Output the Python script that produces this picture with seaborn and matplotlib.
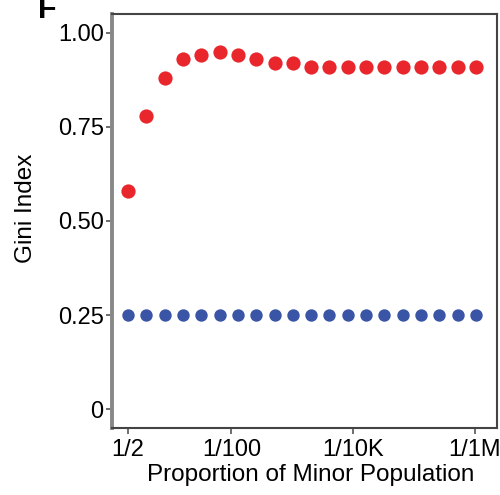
import matplotlib
matplotlib.use("Agg")
import matplotlib.pyplot as plt
import seaborn as sns
import pandas as pd

# Data
denominators = [2, 4, 8, 16, 32, 64, 128, 256, 512, 1024, 2048, 4096, 8192,
                16384, 32768, 65536, 131072, 262144, 524288, 1048576]
gini_red = [0.58, 0.78, 0.88, 0.93, 0.94, 0.95, 0.94, 0.93, 0.92, 0.92,
            0.91, 0.91, 0.91, 0.91, 0.91, 0.91, 0.91, 0.91, 0.91, 0.91]
gini_blue = [0.25] * 20
tick_values = [1/2, 1/100, 1/10000, 1/1000000]
tick_labels = ["1/2", "1/100", "1/10K", "1/1M"]
y_ticks = [0, 0.25, 0.5, 0.75, 1.0]
y_tick_labels = ["0", "0.25", "0.50", "0.75", "1.00"]

sns.set_style("white")
plt.rcParams['font.family'] = ['Liberation Sans', 'DejaVu Sans']
plt.rcParams['text.color'] = 'black'
plt.rcParams['xtick.color'] = 'black'
plt.rcParams['ytick.color'] = 'black'
plt.rcParams['axes.labelcolor'] = 'black'

fig = plt.figure(figsize=(5.0, 4.95), dpi=100)
ax = fig.add_axes([0.224, 0.1354, 0.77, 0.8363])

props = [1 / d for d in denominators]
df_red = pd.DataFrame({"prop": props, "gini": gini_red})
df_blue = pd.DataFrame({"prop": props, "gini": gini_blue})

sns.scatterplot(data=df_blue, x="prop", y="gini", color="#3a55a5", s=80,
                linewidth=0, ax=ax, zorder=3)
sns.scatterplot(data=df_red, x="prop", y="gini", color="#e8262b", s=105,
                linewidth=0, ax=ax, zorder=3)

ax.set_xscale("log", base=2)
ax.set_xlim(2 ** -0.12, 2 ** -21.15)
ax.set_ylim(-0.05, 1.05)
ax.set_xticks(tick_values)
ax.set_xticklabels(tick_labels)
ax.minorticks_off()
ax.set_yticks(y_ticks)
ax.set_yticklabels(y_tick_labels)

ax.tick_params(axis="both", labelsize=17, length=4, width=1.2,
               direction="out", bottom=True, left=True)
ax.tick_params(axis="x", pad=4, color="#555555")
ax.tick_params(axis="y", pad=2, color="#555555")
ax.set_xlabel("Proportion of Minor Population", fontsize=17.5)
ax.set_ylabel("Gini Index", fontsize=17.5)
ax.xaxis.set_label_coords(0.516, -0.087)
ax.yaxis.set_label_coords(-0.195, 0.531)

for side, sp in ax.spines.items():
    sp.set_color("#444444")
    sp.set_linewidth(1.5)
ax.spines["left"].set_color("#888888")
ax.spines["left"].set_linewidth(2.8)

fig.text(0.076, 1 - 18 / 495, "F", fontsize=22, fontweight="bold",
         va="baseline", ha="left")

fig.savefig("out.png", dpi=100)
